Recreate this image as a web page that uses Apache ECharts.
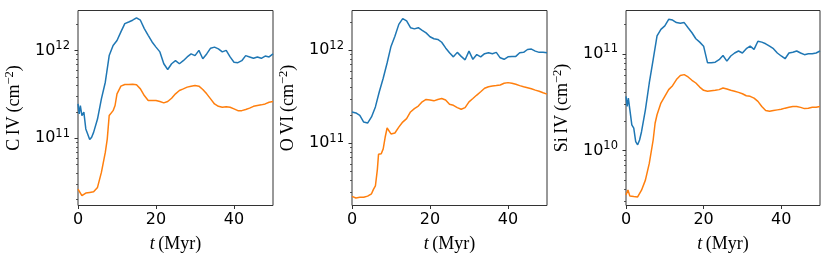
<!DOCTYPE html>
<html><head><meta charset="utf-8">
<script src="https://cdn.jsdelivr.net/npm/echarts@6/dist/echarts.min.js"></script>
<style>html,body{margin:0;padding:0;background:#fff}#c{width:831px;height:260px}</style>
</head><body><div id="c"></div>
<script>
// ---- Panel 1: C IV ----
const civBlueT = [0,0.3,0.6,1,1.5,2,2.5,3,3.5,4,5,6,7,8,9,10,11,12,13,14,15,16,17,18,19,20,21,22,23,24,25,26,27,28,29,30,31,32,33,34,35,36,37,38,39,40,41,42,43,44,45,46,47,48,49,50];
const civBlue = [2.47e11,1.90e11,2.37e11,1.82e11,1.99e11,1.28e11,1.22e11,9.7e10,1.03e11,1.17e11,1.66e11,2.82e11,4.37e11,8.8e11,1.15e12,1.31e12,1.64e12,2.04e12,2.13e12,2.23e12,2.37e12,2.23e12,1.79e12,1.50e12,1.26e12,1.10e12,9.7e11,7.1e11,6.1e11,7.1e11,7.7e11,7.1e11,7.7e11,8.5e11,9.2e11,8.8e11,1.01e12,8.1e11,9.2e11,1.07e12,1.10e12,1.05e12,9.7e11,1.01e12,8.5e11,7.4e11,7.3e11,7.7e11,8.8e11,8.5e11,8.2e11,8.5e11,8.2e11,8.7e11,8.5e11,9.2e11];
const civOrangeT = [0,0.5,1,2,3,4,5,6,7,7.5,8,9,9.5,10,11,12,13,14,15,16,17,18,19,20,21,22,23,24,25,26,27,28,29,30,31,32,33,34,35,36,37,38,39,40,41,42,43,44,45,46,47,48,49,50];
const civOrange = [2.63e10,2.52e10,2.21e10,2.37e10,2.41e10,2.45e10,2.75e10,4.08e10,6.9e10,9.8e10,1.82e11,2.07e11,2.37e11,3.22e11,3.94e11,4.12e11,4.12e11,4.15e11,4.08e11,3.67e11,3.08e11,2.70e11,2.70e11,2.70e11,2.63e11,2.54e11,2.63e11,2.87e11,3.22e11,3.52e11,3.67e11,3.84e11,3.94e11,4.01e11,3.94e11,3.61e11,3.22e11,2.82e11,2.47e11,2.32e11,2.26e11,2.30e11,2.26e11,2.17e11,2.07e11,2.07e11,2.13e11,2.21e11,2.32e11,2.37e11,2.41e11,2.47e11,2.58e11,2.63e11];
const civMajor = [1e11,1e12];
const civMinor = [2e10,3e10,4e10,5e10,6e10,7e10,8e10,9e10,2e11,3e11,4e11,5e11,6e11,7e11,8e11,9e11,2e12];

// ---- Panel 2: O VI ----
const oviBlueT = [0,1,2,3,3.5,4,5,6,7,8,9,10,11,12,13,14,15,16,17,18,19,20,21,22,23,24,25,26,27,28,29,30,31,32,33,34,35,36,37,38,39,40,41,42,43,44,45,46,47,48,49,50];
const oviBlue = [2.17e11,2.12e11,2.0e11,1.69e11,1.62e11,1.65e11,1.92e11,2.46e11,3.58e11,5.0e11,7.3e11,1.10e12,1.42e12,1.90e12,2.19e12,2.07e12,1.75e12,1.70e12,1.75e12,1.64e12,1.54e12,1.40e12,1.33e12,1.31e12,1.22e12,1.06e12,9.4e11,8.5e11,9.5e11,8.6e11,7.9e11,9.8e11,8.0e11,9.0e11,8.5e11,9.2e11,9.4e11,9.2e11,9.5e11,8.3e11,8.0e11,8.5e11,8.6e11,8.6e11,9.4e11,9.5e11,1.02e12,1.03e12,9.8e11,9.5e11,9.5e11,9.4e11];
const oviOrangeT = [0,1,2,3,4,5,5.5,6,6.5,6.8,7.5,8,8.5,9,9.5,10,10.5,11,12,13,14,15,16,17,18,19,20,21,22,23,24,25,26,27,28,29,30,31,32,33,34,35,36,37,38,39,40,41,42,43,44,45,46,47,48,49,50];
const oviOrange = [2.68e10,2.58e10,2.62e10,2.62e10,2.70e10,2.86e10,3.19e10,3.47e10,5.2e10,7.6e10,7.7e10,8.7e10,1.16e11,1.46e11,1.42e11,1.26e11,1.21e11,1.29e11,1.49e11,1.69e11,1.84e11,2.17e11,2.36e11,2.51e11,2.79e11,2.96e11,2.92e11,2.86e11,2.96e11,3.03e11,2.92e11,2.63e11,2.56e11,2.42e11,2.32e11,2.42e11,2.79e11,3.03e11,3.30e11,3.58e11,3.90e11,4.06e11,4.13e11,4.17e11,4.24e11,4.42e11,4.49e11,4.42e11,4.31e11,4.17e11,4.06e11,3.96e11,3.86e11,3.73e11,3.63e11,3.49e11,3.38e11];
const oviMajor = [1e11,1e12];
const oviMinor = [3e10,4e10,5e10,6e10,7e10,8e10,9e10,2e11,3e11,4e11,5e11,6e11,7e11,8e11,9e11,2e12];

// ---- Panel 3: Si IV ----
const siBlueT = [0,0.3,0.6,1,1.5,2,2.5,3,3.5,4,5,6,7,8,9,10,11,12,12.5,13,14,15,16,17,18,19,20,21,22,23,24,25,26,27,28,29,30,31,32,33,34,35,36,37,38,39,40,41,42,43,44,45,46,47,48,49,50];
const siBlue = [3.64e10,2.86e10,3.49e10,2.64e10,1.85e10,1.71e10,1.24e10,1.15e10,1.29e10,1.57e10,2.64e10,5.0e10,8.7e10,1.53e11,1.79e11,1.94e11,2.27e11,2.23e11,2.31e11,2.10e11,2.07e11,2.10e11,1.86e11,1.65e11,1.43e11,1.32e11,1.20e11,8.1e10,8.1e10,8.2e10,8.7e10,9.6e10,8.4e10,9.5e10,1.02e11,1.07e11,1.02e11,1.13e11,1.20e11,1.11e11,1.35e11,1.32e11,1.27e11,1.20e11,1.13e11,1.02e11,9.5e10,8.9e10,1.02e11,1.04e11,1.07e11,1.02e11,9.8e10,1.0e11,1.0e11,1.02e11,1.07e11];
const siOrangeT = [0,0.5,1,2,3,3.5,4,5,6,7,7.5,8,9,10,11,12,13,14,15,16,17,18,19,20,21,22,23,24,25,26,27,28,29,30,31,32,33,34,35,36,37,38,39,40,41,42,43,44,45,46,47,48,49,50];
const siOrange = [3.49e9,3.93e9,3.40e9,3.36e9,3.33e9,3.38e9,3.91e9,4.97e9,7.4e9,1.29e10,1.92e10,2.35e10,3.10e10,3.64e10,4.27e10,4.69e10,5.42e10,5.96e10,6.10e10,5.77e10,5.33e10,5.0e10,4.54e10,4.20e10,4.10e10,4.16e10,4.20e10,4.27e10,4.44e10,4.33e10,4.20e10,4.10e10,4.0e10,3.87e10,3.69e10,3.64e10,3.49e10,3.23e10,2.86e10,2.60e10,2.55e10,2.60e10,2.64e10,2.68e10,2.75e10,2.81e10,2.86e10,2.86e10,2.80e10,2.72e10,2.75e10,2.81e10,2.81e10,2.86e10];
const siMajor = [1e10,1e11];
const siMinor = [3e9,4e9,5e9,6e9,7e9,8e9,9e9,2e10,3e10,4e10,5e10,6e10,7e10,8e10,9e10,2e11];

const xTicks = [0,20,40];
const yNames = ['C\u2009IV\u2009(cm{s|\u22122})', 'O\u2009VI\u2009(cm{s|\u22122})', 'Si\u2009IV\u2009(cm{s|\u22122})'];
const xName = '{i|t}\u2009(Myr)';

const BLUE = '#1f77b4', ORANGE = '#ff7f0e';
const panels = [
  {left:78, width:195, min:1.71e10, max:2.88e12, major:civMajor, minor:civMinor, bt:civBlueT, b:civBlue, ot:civOrangeT, o:civOrange},
  {left:352, width:195, min:2.14e10, max:2.68e12, major:oviMajor, minor:oviMinor, bt:oviBlueT, b:oviBlue, ot:oviOrangeT, o:oviOrange},
  {left:626, width:194, min:2.72e9, max:2.80e11, major:siMajor, minor:siMinor, bt:siBlueT, b:siBlue, ot:siOrangeT, o:siOrange}
];
const zip = (t, v) => t.map((x, i) => [x, v[i]]);
const grid = [], xAxis = [], yAxis = [], series = [];
panels.forEach((p, i) => {
  grid.push({left:p.left, top:10.5, width:p.width, height:195, show:true, borderColor:'#333', borderWidth:1, backgroundColor:'transparent'});
  xAxis.push({gridIndex:i, type:'value', min:0, max:50, position:'bottom',
    axisLine:{show:false}, splitLine:{show:false},
    axisTick:{customValues:xTicks, length:3.5, lineStyle:{color:'#333', width:1}},
    axisLabel:{customValues:xTicks, margin:6, fontFamily:'DejaVu Sans', fontSize:16, color:'#000'},
    name:xName, nameLocation:'middle', nameGap:30,
    nameTextStyle:{fontFamily:'Liberation Serif', fontSize:18, color:'#000', rich:{i:{fontFamily:'Liberation Serif', fontStyle:'italic', fontSize:18, color:'#000'}}}
  });
  yAxis.push({gridIndex:i, type:'log', logBase:10, min:p.min, max:p.max, position:'left',
    axisLine:{show:false}, splitLine:{show:false},
    axisTick:{customValues:p.major, length:3.5, lineStyle:{color:'#333', width:1}},
    axisLabel:{customValues:p.major, margin:8, color:'#000',
      formatter: v => '{b|10}{s|' + Math.round(Math.log10(v)) + '}',
      rich:{b:{fontFamily:'DejaVu Sans', fontSize:16, color:'#000'}, s:{fontFamily:'DejaVu Sans', fontSize:11.5, color:'#000', padding:[0,0,9,0]}}},
    name:yNames[i], nameLocation:'middle', nameRotate:90, nameGap:52,
    nameTextStyle:{fontFamily:'Liberation Serif', fontSize:18, color:'#000', rich:{s:{fontFamily:'Liberation Serif', fontSize:12.5, color:'#000', padding:[0,0,10,0]}}}
  });
  yAxis.push({gridIndex:i, type:'log', logBase:10, min:p.min, max:p.max, position:'left', offset:0,
    axisLine:{show:false}, splitLine:{show:false}, axisLabel:{show:false},
    axisTick:{customValues:p.minor, length:2, lineStyle:{color:'#333', width:0.8}}
  });
  series.push({type:'line', xAxisIndex:i, yAxisIndex:2*i, data:zip(p.bt, p.b), showSymbol:false, lineStyle:{color:BLUE, width:1.5}, itemStyle:{color:BLUE}});
  series.push({type:'line', xAxisIndex:i, yAxisIndex:2*i, data:zip(p.ot, p.o), showSymbol:false, lineStyle:{color:ORANGE, width:1.5}, itemStyle:{color:ORANGE}});
});
const chart = echarts.init(document.getElementById('c'));
chart.setOption({animation:false, backgroundColor:'#fff', grid, xAxis, yAxis, series});
</script></body></html>
